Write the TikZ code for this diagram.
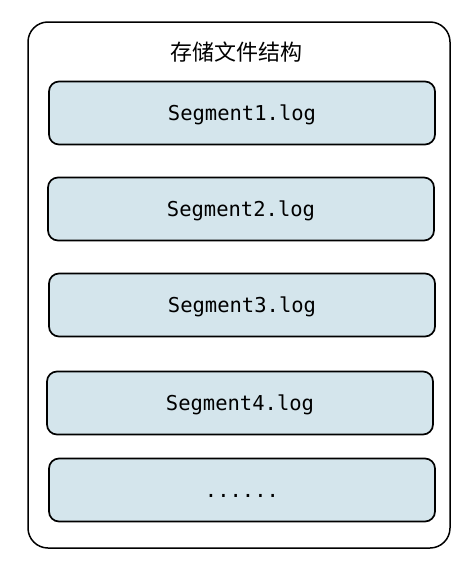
\documentclass[tikz,border=0pt]{standalone}
\usepackage{fontspec}
\usepackage{tikz}
\newfontfamily\cjk{Noto Sans CJK SC}
\newfontfamily\segfont{DejaVu Sans Mono}
\definecolor{segfill}{RGB}{212,229,236}

\begin{document}
\begin{tikzpicture}[x=1pt,y=-1pt,
  frame/.style={draw=black, line width=1.5pt, rounded corners=20pt},
  segbox/.style={draw=black, line width=1.7pt, fill=segfill, rounded corners=10pt,
    minimum width=386pt, minimum height=63pt, inner sep=0pt, text height=15pt, text depth=0pt,
    font=\segfont\fontsize{20.5}{24}\selectfont}]
\useasboundingbox (0,0) rectangle (468,562);
\draw[frame] (28,22) rectangle (450,548);
\node[font=\cjk\fontsize{22}{26}\selectfont] (title) at (236,52) {存储文件结构};
\node[segbox] (seg1) at (242,113) {Segment1.log};
\node[segbox] (seg2) at (241,209) {Segment2.log};
\node[segbox] (seg3) at (242,305) {Segment3.log};
\node[segbox] (seg4) at (240,403) {Segment4.log};
\node[segbox] (seg5) at (242,490) {......};
\end{tikzpicture}
\end{document}
